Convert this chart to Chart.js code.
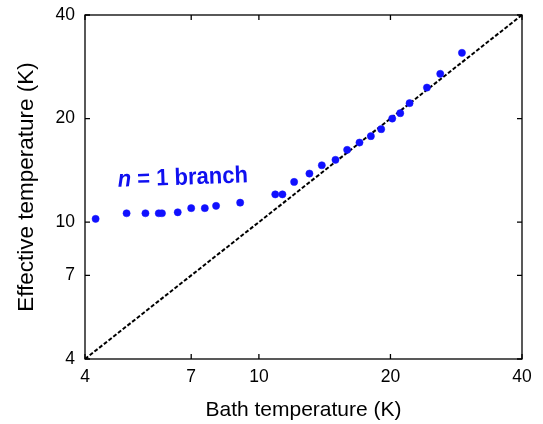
<!DOCTYPE html>
<html>
<head>
<meta charset="utf-8">
<script src="https://cdn.jsdelivr.net/npm/chart.js@4.4.1/dist/chart.umd.min.js"></script>
<style>
  html, body { margin: 0; padding: 0; background: #ffffff; }
  #wrap { width: 543px; height: 424px; position: relative; }
</style>
</head>
<body>
<div id="wrap"><canvas id="c" width="543" height="424"></canvas></div>
<script>
// ---- data ----
const bathTemperature = [4.23, 4.98, 5.50, 5.90, 6.00, 6.52, 7.00, 7.52, 7.98, 9.06,
  10.90, 11.32, 12.04, 13.05, 13.93, 14.97, 15.92, 16.99, 18.04, 19.05,
  20.19, 21.06, 22.12, 24.24, 26.0, 29.15];
const effectiveTemperature = [10.22, 10.61, 10.61, 10.61, 10.61, 10.68, 10.98, 10.98, 11.15, 11.39,
  12.04, 12.04, 13.09, 13.84, 14.63, 15.17, 16.22, 17.03, 17.78, 18.63,
  20.0, 20.73, 22.17, 24.61, 26.98, 31.05];
const identityLine = [4, 40];
const xTickValues = [4, 7, 10, 20, 40];
const yTickValues = [4, 7, 10, 20, 40];
const annotationText = { italic: 'n', rest: ' = 1 branch', x: 4.76, y: 12.66 };

const FONT = "'Liberation Sans', Arial, Helvetica, sans-serif";

const framePlugin = {
  id: 'frameTicks',
  afterDraw(chart) {
    const { ctx, chartArea: a, scales } = chart;
    ctx.save();
    ctx.strokeStyle = '#000';
    ctx.lineWidth = 1.3;
    ctx.strokeRect(a.left, a.top, a.right - a.left, a.bottom - a.top);
    const L = 5;
    ctx.beginPath();
    xTickValues.forEach(v => {
      const px = scales.x.getPixelForValue(v);
      ctx.moveTo(px, a.bottom); ctx.lineTo(px, a.bottom - L);
      ctx.moveTo(px, a.top); ctx.lineTo(px, a.top + L);
    });
    yTickValues.forEach(v => {
      const py = scales.y.getPixelForValue(v);
      ctx.moveTo(a.left, py); ctx.lineTo(a.left + L, py);
      ctx.moveTo(a.right, py); ctx.lineTo(a.right - L, py);
    });
    ctx.stroke();

    // annotation
    const tx = scales.x.getPixelForValue(annotationText.x);
    const ty = scales.y.getPixelForValue(annotationText.y);
    ctx.translate(tx, ty);
    ctx.rotate(-2 * Math.PI / 180);
    ctx.scale(1, 1.08);
    ctx.fillStyle = '#1010f0';
    ctx.textBaseline = 'alphabetic';
    ctx.textAlign = 'left';
    ctx.font = "italic bold 22px " + FONT;
    ctx.fillText(annotationText.italic, 0, 0);
    const w = ctx.measureText(annotationText.italic).width;
    ctx.font = "bold 22px " + FONT;
    ctx.fillText(annotationText.rest, w, 0);
    ctx.restore();
  }
};

const points = bathTemperature.map((x, i) => ({ x, y: effectiveTemperature[i] }));

new Chart(document.getElementById('c'), {
  type: 'scatter',
  data: {
    datasets: [
      {
        type: 'line',
        data: identityLine.map(v => ({ x: v, y: v })),
        borderColor: '#000',
        borderWidth: 2,
        borderDash: [4, 2],
        pointRadius: 0,
        fill: false,
        order: 2
      },
      {
        data: points,
        backgroundColor: '#1010ff',
        borderColor: '#1010ff',
        pointRadius: 3.6,
        borderWidth: 0.5,
        order: 1
      }
    ]
  },
  options: {
    responsive: false,
    animation: false,
    layout: { padding: { top: 15, right: 21, left: 0, bottom: 0 } },
    plugins: { legend: { display: false }, tooltip: { enabled: false } },
    scales: {
      x: {
        type: 'logarithmic',
        min: 4, max: 40,
        afterFit(s) { s.height = 65; s.paddingLeft = 0; s.paddingRight = 0; },
        afterBuildTicks(s) { s.ticks = xTickValues.map(v => ({ value: v })); },
        grid: { display: false, drawTicks: false },
        border: { display: false },
        ticks: {
          autoSkip: false, maxRotation: 0, padding: 8,
          color: '#000', font: { family: FONT, size: 17.5 },
          callback: v => String(v)
        },
        title: {
          display: true, text: 'Bath temperature (K)', color: '#000',
          font: { family: FONT, size: 21 }, padding: { top: 0, bottom: 1 }
        }
      },
      y: {
        type: 'logarithmic',
        min: 4, max: 40,
        afterFit(s) { s.width = 85; s.paddingTop = 0; s.paddingBottom = 0; },
        afterBuildTicks(s) { s.ticks = yTickValues.map(v => ({ value: v })); },
        grid: { display: false, drawTicks: false },
        border: { display: false },
        ticks: {
          autoSkip: false, padding: 10,
          color: '#000', font: { family: FONT, size: 17.5 },
          callback: v => String(v)
        },
        title: {
          display: true, text: 'Effective temperature (K)', color: '#000',
          font: { family: FONT, size: 22.5 }, padding: { top: 13, bottom: 0 }
        }
      }
    }
  },
  plugins: [framePlugin]
});
</script>
</body>
</html>
